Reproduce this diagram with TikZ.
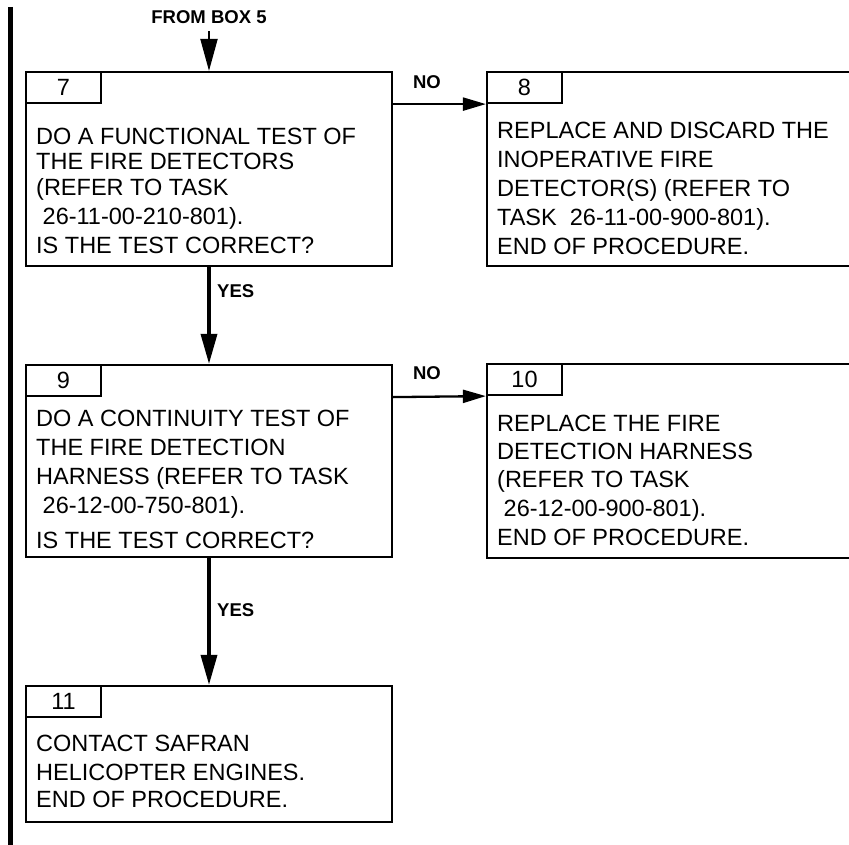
\documentclass[tikz,border=0pt]{standalone}
\usepackage{fontspec}
\setmainfont{Liberation Sans}
\usetikzlibrary{arrows.meta,positioning}
\tikzset{
  box/.style={draw,line width=2.2pt,inner sep=0pt},
  tab/.style={draw,line width=2.2pt,inner sep=0pt,minimum width=75pt,minimum height=31pt,anchor=north west,font=\fontsize{23.5}{29}\selectfont},
  txt/.style={inner sep=0pt,anchor=north west,align=left,font=\fontsize{23.5}{29}\selectfont},
  lbl/.style={inner sep=0pt,font=\fontsize{18.5}{22}\selectfont\bfseries},
  yesarr/.style={line width=3.5pt,-{Triangle[length=30pt,width=16pt]}},
  noarr/.style={line width=2.3pt,-{Triangle[length=23pt,width=13pt]}},
  fromarr/.style={line width=2pt,-{Triangle[length=32pt,width=17pt]}}
}

\begin{document}
\begin{tikzpicture}[x=1pt,y=-1pt]
\useasboundingbox (0,0) rectangle (849,845);
\clip (0,0) rectangle (849,845);

\draw[line width=5pt] (10,7) -- (10,845);

\node[box,minimum width=366pt,minimum height=194pt] (b7) at (209,169) {};
\node[box,minimum width=373pt,minimum height=194pt] (b8) at (673.5,169) {};
\node[box,minimum width=366pt,minimum height=192pt] (b9) at (209,461) {};
\node[box,minimum width=373pt,minimum height=194pt] (b10) at (673.5,461) {};
\node[box,minimum width=366pt,minimum height=136pt] (b11) at (209,754) {};

\node[tab] (t7) at (b7.north west) {7};
\node[tab] (t8) at (b8.north west) {8};
\node[tab] (t9) at (b9.north west) {9};
\node[tab] (t10) at (b10.north west) {10};
\node[tab] (t11) at (b11.north west) {11};

\node[txt] (x7) at (36,128.3) {DO A FUNCTIONAL TEST OF\\[-4pt]
  THE FIRE DETECTORS\\[-3pt]
  (REFER TO TASK\\
  \hspace*{6.5pt}26-11-00-210-801).\\
  IS THE TEST CORRECT?};
\node[txt] (x8) at (497,121.7) {REPLACE AND DISCARD THE\\
  INOPERATIVE FIRE\\
  DETECTOR(S) (REFER TO\\
  TASK\ \ 26-11-00-900-801).\\
  END OF PROCEDURE.};
\node[txt] (x9) at (36,410) {DO A CONTINUITY TEST OF\\
  THE FIRE DETECTION\\
  HARNESS (REFER TO TASK\\
  \hspace*{6.5pt}26-12-00-750-801).\\[6pt]
  IS THE TEST CORRECT?};
\node[txt] (x10) at (497,415) {REPLACE THE FIRE\\[-1pt]
  DETECTION HARNESS\\[-1pt]
  (REFER TO TASK\\
  \hspace*{6.5pt}26-12-00-900-801).\\
  END OF PROCEDURE.};
\node[txt] (x11) at (36,735) {CONTACT SAFRAN\\
  HELICOPTER ENGINES.\\[-2pt]
  END OF PROCEDURE.};

\node[lbl,inner ysep=8pt] (from5) at (209,16.7) {FROM BOX 5};
\node[lbl] (no1) at (427,82) {NO};
\node[lbl] (no2) at (427,373) {NO};
\node[lbl,anchor=west] (yes1) at (217,291) {YES};
\node[lbl,anchor=west] (yes2) at (217,610) {YES};

\draw[fromarr] (from5.south) -- (b7.north);
\draw[noarr] (t7.south -| b7.east) -- (t8.south west);
\draw[yesarr] (b7.south) -- (b9.north);
\draw[noarr] (t9.south -| b9.east) -- (t10.south west);
\draw[yesarr] (b9.south) -- (b11.north);

\end{tikzpicture}
\end{document}
